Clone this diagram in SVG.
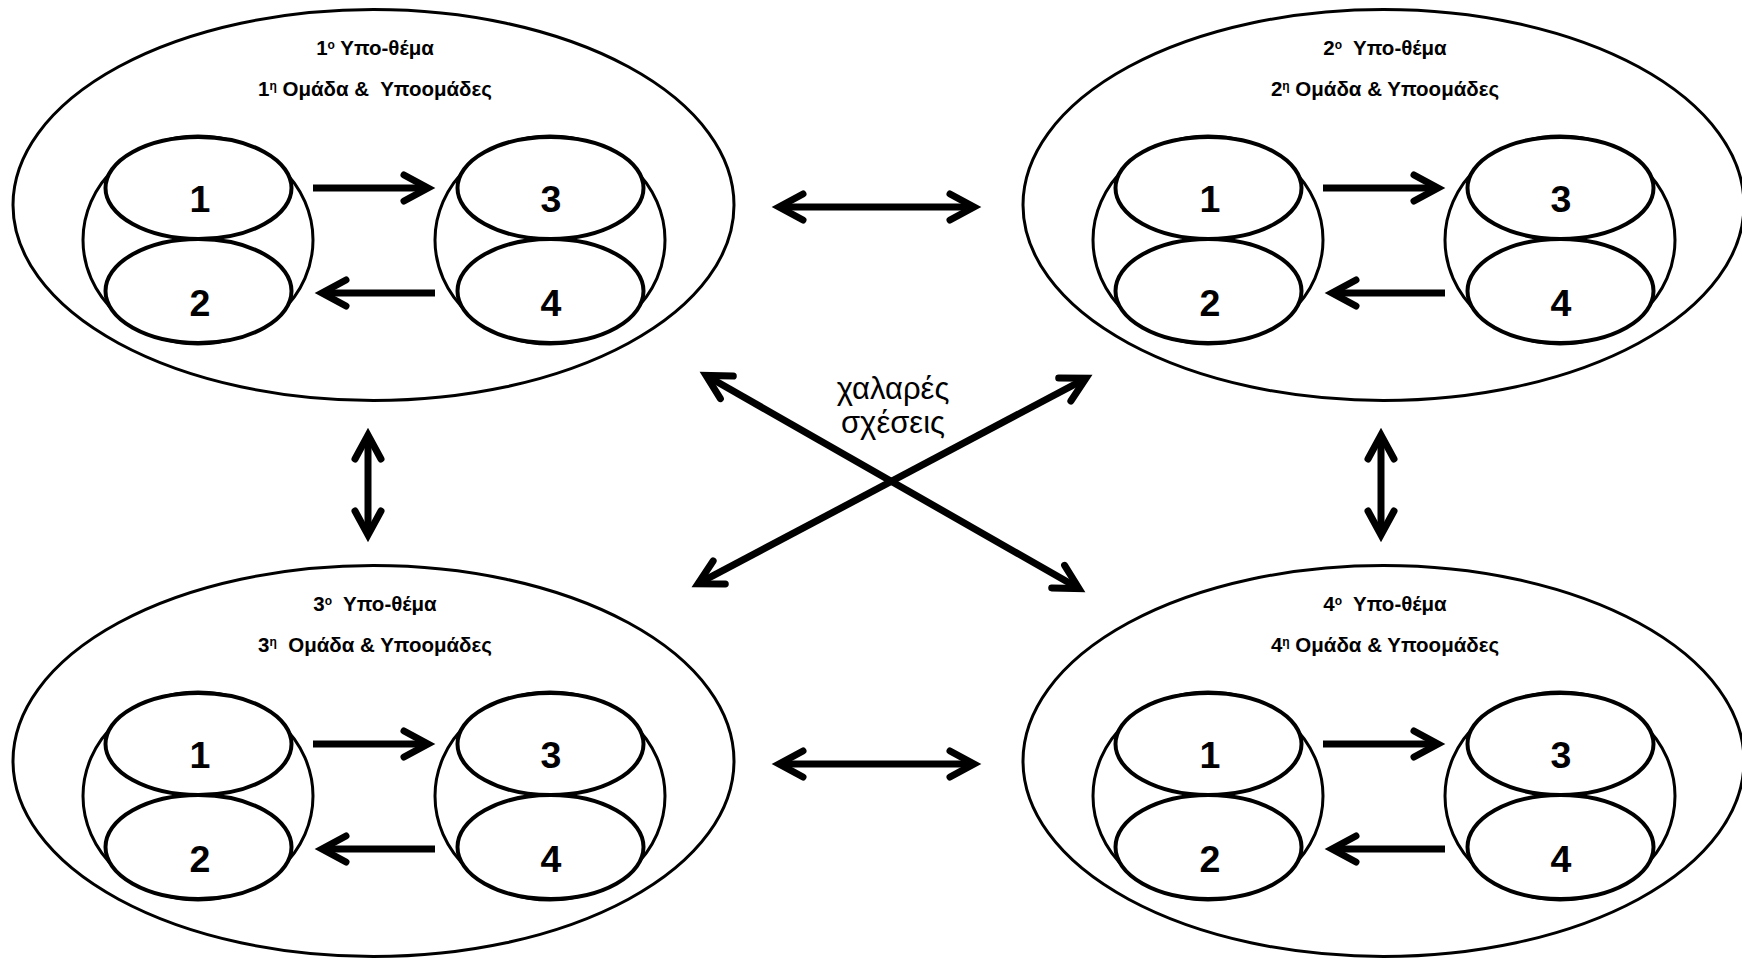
<svg xmlns="http://www.w3.org/2000/svg" width="1742" height="960" viewBox="0 0 1742 960">
<style>
.outer{fill:#fff;stroke:#000;stroke-width:3}
.big{fill:#fff;stroke:#000;stroke-width:3}
.sub{fill:#fff;stroke:#000;stroke-width:4}
.num{font-family:"Liberation Sans",Arial,sans-serif;font-weight:bold;font-size:37.5px;text-anchor:middle;fill:#000}
.title{font-family:"Liberation Sans",Arial,sans-serif;font-weight:bold;font-size:20.5px;text-anchor:middle;fill:#000}
.sup{font-size:12px}
.note{font-family:"Liberation Sans",Arial,sans-serif;font-size:31px;text-anchor:middle;fill:#000}
.conn{fill:none;stroke:#000;stroke-width:7}
.one{marker-end:url(#chev)}
.two{marker-start:url(#chev);marker-end:url(#chev)}
</style>
<defs>
<marker id="chev" markerUnits="userSpaceOnUse" orient="auto-start-reverse" overflow="visible" refX="0" refY="0" markerWidth="1" markerHeight="1">
<path d="M-24,-13 L0,0 L-24,13" fill="none" stroke="#000" stroke-width="7" stroke-linejoin="miter" stroke-linecap="round"/>
</marker>
</defs>
<rect width="1742" height="960" fill="#fff"/>

<g id="topic1">
<ellipse class="outer" cx="373.5" cy="205" rx="360.5" ry="195.5"/>
<text class="title" x="375" y="55" xml:space="preserve">1<tspan class="sup" dy="-6">ο</tspan><tspan dy="6"> Υπο-θέμα</tspan></text>
<text class="title" x="375" y="96" xml:space="preserve">1<tspan class="sup" dy="-6">η</tspan><tspan dy="6"> Ομάδα &amp;  Υποομάδες</tspan></text>
<g id="topic1-pair12">
<ellipse class="big" cx="198" cy="240" rx="115" ry="104"/>
<g id="topic1-sub1"><ellipse class="sub" cx="198.5" cy="188" rx="93" ry="51"/><text class="num" x="200" y="212">1</text></g>
<g id="topic1-sub2"><ellipse class="sub" cx="198.5" cy="291" rx="93" ry="52"/><text class="num" x="200" y="316">2</text></g>
</g>
<g id="topic1-pair34">
<ellipse class="big" cx="550" cy="240" rx="115" ry="104"/>
<g id="topic1-sub3"><ellipse class="sub" cx="550.5" cy="188" rx="93" ry="51"/><text class="num" x="551" y="212">3</text></g>
<g id="topic1-sub4"><ellipse class="sub" cx="550.5" cy="291" rx="93" ry="52"/><text class="num" x="551" y="316">4</text></g>
</g>
</g>

<g id="topic2">
<ellipse class="outer" cx="1383.5" cy="205" rx="360.5" ry="195.5"/>
<text class="title" x="1385" y="55" xml:space="preserve">2<tspan class="sup" dy="-6">ο</tspan><tspan dy="6">  Υπο-θέμα</tspan></text>
<text class="title" x="1385" y="96" xml:space="preserve">2<tspan class="sup" dy="-6">η</tspan><tspan dy="6"> Ομάδα &amp; Υποομάδες</tspan></text>
<g id="topic2-pair12">
<ellipse class="big" cx="1208" cy="240" rx="115" ry="104"/>
<g id="topic2-sub1"><ellipse class="sub" cx="1208.5" cy="188" rx="93" ry="51"/><text class="num" x="1210" y="212">1</text></g>
<g id="topic2-sub2"><ellipse class="sub" cx="1208.5" cy="291" rx="93" ry="52"/><text class="num" x="1210" y="316">2</text></g>
</g>
<g id="topic2-pair34">
<ellipse class="big" cx="1560" cy="240" rx="115" ry="104"/>
<g id="topic2-sub3"><ellipse class="sub" cx="1560.5" cy="188" rx="93" ry="51"/><text class="num" x="1561" y="212">3</text></g>
<g id="topic2-sub4"><ellipse class="sub" cx="1560.5" cy="291" rx="93" ry="52"/><text class="num" x="1561" y="316">4</text></g>
</g>
</g>

<g id="topic3">
<ellipse class="outer" cx="373.5" cy="761" rx="360.5" ry="195.5"/>
<text class="title" x="375" y="611" xml:space="preserve">3<tspan class="sup" dy="-6">ο</tspan><tspan dy="6">  Υπο-θέμα</tspan></text>
<text class="title" x="375" y="652" xml:space="preserve">3<tspan class="sup" dy="-6">η</tspan><tspan dy="6">  Ομάδα &amp; Υποομάδες</tspan></text>
<g id="topic3-pair12">
<ellipse class="big" cx="198" cy="796" rx="115" ry="104"/>
<g id="topic3-sub1"><ellipse class="sub" cx="198.5" cy="744" rx="93" ry="51"/><text class="num" x="200" y="768">1</text></g>
<g id="topic3-sub2"><ellipse class="sub" cx="198.5" cy="847" rx="93" ry="52"/><text class="num" x="200" y="872">2</text></g>
</g>
<g id="topic3-pair34">
<ellipse class="big" cx="550" cy="796" rx="115" ry="104"/>
<g id="topic3-sub3"><ellipse class="sub" cx="550.5" cy="744" rx="93" ry="51"/><text class="num" x="551" y="768">3</text></g>
<g id="topic3-sub4"><ellipse class="sub" cx="550.5" cy="847" rx="93" ry="52"/><text class="num" x="551" y="872">4</text></g>
</g>
</g>

<g id="topic4">
<ellipse class="outer" cx="1383.5" cy="761" rx="360.5" ry="195.5"/>
<text class="title" x="1385" y="611" xml:space="preserve">4<tspan class="sup" dy="-6">ο</tspan><tspan dy="6">  Υπο-θέμα</tspan></text>
<text class="title" x="1385" y="652" xml:space="preserve">4<tspan class="sup" dy="-6">η</tspan><tspan dy="6"> Ομάδα &amp; Υποομάδες</tspan></text>
<g id="topic4-pair12">
<ellipse class="big" cx="1208" cy="796" rx="115" ry="104"/>
<g id="topic4-sub1"><ellipse class="sub" cx="1208.5" cy="744" rx="93" ry="51"/><text class="num" x="1210" y="768">1</text></g>
<g id="topic4-sub2"><ellipse class="sub" cx="1208.5" cy="847" rx="93" ry="52"/><text class="num" x="1210" y="872">2</text></g>
</g>
<g id="topic4-pair34">
<ellipse class="big" cx="1560" cy="796" rx="115" ry="104"/>
<g id="topic4-sub3"><ellipse class="sub" cx="1560.5" cy="744" rx="93" ry="51"/><text class="num" x="1561" y="768">3</text></g>
<g id="topic4-sub4"><ellipse class="sub" cx="1560.5" cy="847" rx="93" ry="52"/><text class="num" x="1561" y="872">4</text></g>
</g>
</g>

<g id="label-loose">
<text class="note" x="893" y="399">χαλαρές</text>
<text class="note" x="893" y="433">σχέσεις</text>
</g>

<g id="connectors">
<line class="conn one" x1="313" y1="188" x2="428" y2="188"/>
<line class="conn one" x1="435" y1="293" x2="322" y2="293"/>
<line class="conn one" x1="1323" y1="188" x2="1438" y2="188"/>
<line class="conn one" x1="1445" y1="293" x2="1332" y2="293"/>
<line class="conn one" x1="313" y1="744" x2="428" y2="744"/>
<line class="conn one" x1="435" y1="849" x2="322" y2="849"/>
<line class="conn one" x1="1323" y1="744" x2="1438" y2="744"/>
<line class="conn one" x1="1445" y1="849" x2="1332" y2="849"/>
<line class="conn two" x1="779" y1="207" x2="974" y2="207"/>
<line class="conn two" x1="779" y1="764" x2="974" y2="764"/>
<line class="conn two" x1="368" y1="435" x2="368" y2="535"/>
<line class="conn two" x1="1381" y1="435" x2="1381" y2="535"/>
<line class="conn two" x1="706" y1="375.5" x2="1079" y2="588.5"/>
<line class="conn two" x1="698" y1="583.7" x2="1086" y2="378.3"/>
</g>
</svg>
